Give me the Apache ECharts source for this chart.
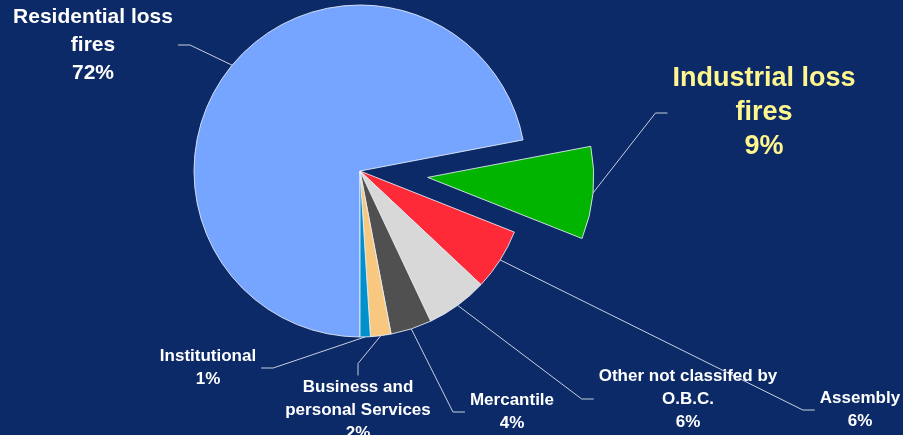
<!DOCTYPE html>
<html>
<head>
<meta charset="utf-8">
<style>
  html, body { margin: 0; padding: 0; background: #0B2A67; }
  #chart { width: 903px; height: 435px; }
</style>
<script src="https://cdn.jsdelivr.net/npm/echarts@6/dist/echarts.min.js"></script>
</head>
<body>
<div id="chart"></div>
<script>
// Share of loss fires by occupancy class
const categories = [
  'Residential loss\nfires',
  'Industrial loss\nfires',
  'Assembly',
  'Other not classifed by\nO.B.C.',
  'Mercantile',
  'Business and\npersonal Services',
  'Institutional'
];
const values = [72, 9, 6, 6, 4, 2, 1];
const sliceColors = ['#76A5FF', '#00B400', '#FF2A38', '#D8D8D8', '#505050', '#F8C880', '#0090CC'];

// Layout settings
const PIE_CENTER = [360, 171];
const PIE_RADIUS = 166;
const START_ANGLE = 270;
const EXPLODED = 1;          // index of the pulled-out slice
const EXPLODE_DISTANCE = 68;

// Where each label block is centred on the page
const labelCenters = [
  [93, 45],
  [764, 113],
  [860, 410],
  [688, 399],
  [512, 412],
  [358, 410],
  [208, 368]
];

// Direction of the pulled-out slice's bisector (clockwise from START_ANGLE)
const total = values.reduce((a, b) => a + b, 0);
const before = values.slice(0, EXPLODED).reduce((a, b) => a + b, 0);
const midDeg = START_ANGLE - (before + values[EXPLODED] / 2) / total * 360;
const midRad = midDeg * Math.PI / 180;
const explodedCenter = [
  PIE_CENTER[0] + EXPLODE_DISTANCE * Math.cos(midRad),
  PIE_CENTER[1] - EXPLODE_DISTANCE * Math.sin(midRad)
];

const hidden = { color: 'rgba(0,0,0,0)', borderWidth: 0 };

function labelStyle(i) {
  if (i === EXPLODED) return { color: '#FFF68F', fontSize: 27, lineHeight: 34 };
  if (i === 0) return { color: '#FFFFFF', fontSize: 21, lineHeight: 28 };
  return { color: '#FFFFFF', fontSize: 17, lineHeight: 23 };
}

// Main pie: every slice except the pulled-out one
const mainData = categories.map((name, i) => ({
  name: name,
  value: values[i],
  itemStyle: i === EXPLODED ? hidden : { color: sliceColors[i] },
  label: i === EXPLODED ? { show: false } : labelStyle(i),
  labelLine: { show: i !== EXPLODED }
}));

// Same pie, shifted along the bisector, showing only the pulled-out slice
const explodedData = categories.map((name, i) => ({
  name: name,
  value: values[i],
  itemStyle: i === EXPLODED ? { color: sliceColors[i] } : hidden,
  label: i === EXPLODED ? labelStyle(i) : { show: false },
  labelLine: { show: i === EXPLODED }
}));

const common = {
  type: 'pie',
  radius: [0, PIE_RADIUS],
  startAngle: START_ANGLE,
  clockwise: true,
  avoidLabelOverlap: false,
  percentPrecision: 0,
  silent: true,
  emphasis: { disabled: true },
  itemStyle: {
    borderColor: 'rgba(235,240,250,0.85)',
    borderWidth: 1
  },
  label: {
    show: true,
    position: 'outside',
    formatter: '{b}\n{d}%',
    fontFamily: '"Liberation Sans", Arial, sans-serif',
    fontWeight: 'bold',
    align: 'center',
    padding: [0, 5]
  },
  labelLine: {
    show: true,
    length: 20,
    length2: 12,
    smooth: false,
    lineStyle: { color: '#C8D0E0', width: 1 }
  },
  labelLayout: function (params) {
    const c = labelCenters[params.dataIndex];
    return { x: c[0], y: c[1], align: 'center', verticalAlign: 'middle' };
  }
};

const chart = echarts.init(document.getElementById('chart'), null, { renderer: 'canvas' });
chart.setOption({
  backgroundColor: '#0B2A67',
  animation: false,
  series: [
    Object.assign({}, common, { center: PIE_CENTER, data: mainData }),
    Object.assign({}, common, { center: explodedCenter, data: explodedData })
  ]
});
</script>
</body>
</html>
